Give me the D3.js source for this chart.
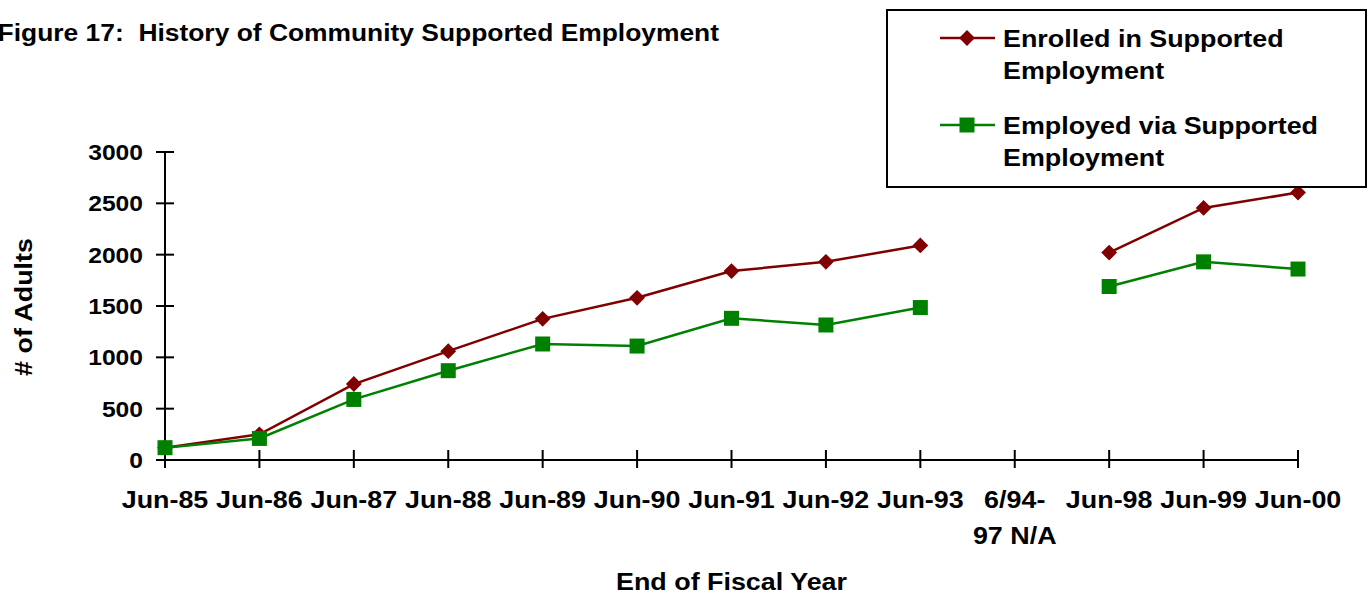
<!DOCTYPE html>
<html>
<head>
<meta charset="utf-8">
<script src="https://cdn.jsdelivr.net/npm/d3@7"></script>
<style>
body { margin: 0; background: #fff; }
svg { display: block; }
text { font-family: "Liberation Sans", Arial, sans-serif; font-weight: bold; fill: #000; white-space: pre; }
</style>
</head>
<body>
<svg width="1369" height="595"></svg>
<script>
var categories = ["Jun-85", "Jun-86", "Jun-87", "Jun-88", "Jun-89", "Jun-90", "Jun-91",
                  "Jun-92", "Jun-93", "6/94-|97 N/A", "Jun-98", "Jun-99", "Jun-00"];
var enrolled = [120, 250, 740, 1060, 1375, 1580, 1840, 1930, 2090, null, 2020, 2455, 2605];
var employed = [120, 210, 590, 870, 1130, 1110, 1380, 1315, 1485, null, 1690, 1930, 1860];
var y_ticks = [0, 500, 1000, 1500, 2000, 2500, 3000];

var series = [
    {id: "Enrolled in Supported|Employment", values: enrolled, color: "#800000", shape: "diamond"},
    {id: "Employed via Supported|Employment", values: employed, color: "#008000", shape: "square"}
];

// the fonts in the picture are a bit wider than Arial, stretch them
var sx = 1.12;

var svg = d3.select("svg");
var margin = {top: 152, right: 71, bottom: 135, left: 165};
var width = svg.attr("width") - margin.left - margin.right;
var height = svg.attr("height") - margin.top - margin.bottom;
var g = svg.append("g").attr("transform", "translate(" + margin.left + "," + margin.top + ")");

var x = d3.scalePoint().domain(categories).range([0, width]);
var y = d3.scaleLinear().domain([0, 3000]).range([height, 0]);

function stext(sel, px, py, size, anchor, rot, scl)
{
    return sel.append("text")
        .attr("transform", "translate(" + px + "," + py + ")" + (rot ? " rotate(" + rot + ")" : "") + " scale(" + (scl || sx) + ",1)")
        .attr("text-anchor", anchor)
        .style("font-size", size + "px");
}

function marker(shape)
{
    if (shape == "diamond")
        return {path: d3.symbol().type(d3.symbolSquare).size(125)(), rot: 45};
    return {path: d3.symbol().type(d3.symbolSquare).size(225)(), rot: 0};
}

// title
stext(svg, 719, 41, 24, "end", 0, 1.1).text("Figure 17:  History of Community Supported Employment");

// y axis
g.append("line").attr("x1", 0).attr("x2", 0).attr("y1", 0).attr("y2", height)
    .attr("stroke", "#000").attr("stroke-width", 2);
y_ticks.forEach(function(t) {
    g.append("line").attr("x1", -9).attr("x2", 9).attr("y1", y(t)).attr("y2", y(t))
        .attr("stroke", "#000").attr("stroke-width", 2);
    stext(g, -22, y(t) + 8, 22, "end").text(t);
});
stext(svg, 32, 307, 24, "middle", -90).text("# of Adults");

// x axis
g.append("line").attr("x1", 0).attr("x2", width).attr("y1", height).attr("y2", height)
    .attr("stroke", "#000").attr("stroke-width", 2);
categories.forEach(function(c) {
    g.append("line").attr("x1", x(c)).attr("x2", x(c)).attr("y1", height - 10).attr("y2", height + 8)
        .attr("stroke", "#000").attr("stroke-width", 2);
    c.split("|").forEach(function(part, i) {
        stext(g, x(c), height + 48 + i * 36, 24, "middle").text(part);
    });
});
stext(svg, margin.left + width / 2, 590, 24, "middle").text("End of Fiscal Year");

// lines
var line = d3.line()
    .defined(function(d) { return d != null; })
    .x(function(d, i) { return x(categories[i]); })
    .y(function(d) { return y(d); });

series.forEach(function(s) {
    g.append("path")
        .attr("d", line(s.values))
        .attr("fill", "none")
        .attr("stroke", s.color)
        .attr("stroke-width", 2.5);
    var m = marker(s.shape);
    s.values.forEach(function(v, i) {
        if (v == null) return;
        g.append("path")
            .attr("d", m.path)
            .attr("transform", "translate(" + x(categories[i]) + "," + y(v) + ") rotate(" + m.rot + ")")
            .attr("fill", s.color);
    });
});

// legend
var leg = svg.append("g");
leg.append("rect").attr("x", 887).attr("y", 10).attr("width", 479).attr("height", 177)
    .attr("fill", "#fff").attr("stroke", "#000").attr("stroke-width", 2);
series.forEach(function(s, i) {
    var ly = 38 + i * 87;
    leg.append("line").attr("x1", 940).attr("x2", 995).attr("y1", ly).attr("y2", ly)
        .attr("stroke", s.color).attr("stroke-width", 2.5);
    var m = marker(s.shape);
    leg.append("path")
        .attr("d", m.path)
        .attr("transform", "translate(967," + ly + ") rotate(" + m.rot + ")")
        .attr("fill", s.color);
    s.id.split("|").forEach(function(part, j) {
        stext(leg, 1003, ly + 9 + j * 32, 24, "start").text(part);
    });
});
</script>
</body>
</html>
